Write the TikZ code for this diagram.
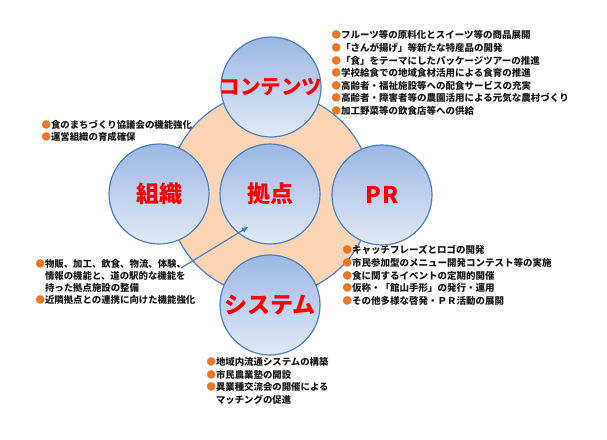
\documentclass[tikz,border=0pt]{standalone}
\usepackage{fontspec}
\newfontfamily\jp{Noto Sans CJK JP}
\usetikzlibrary{arrows.meta}
\definecolor{circblue}{RGB}{79,129,189}
\definecolor{circtop}{RGB}{156,183,228}
\definecolor{circbot}{RGB}{226,234,247}
\definecolor{peach}{RGB}{251,213,181}
\definecolor{bulorange}{RGB}{232,120,42}
\newcommand{\bul}{{\color{bulorange}●}}
\tikzset{every picture/.style={line width=1.2pt}}
\tikzset{
  ring/.style={circle, draw=circblue, inner sep=0pt, minimum size=100pt, top color=circtop, bottom color=circbot},
  ringlabel/.style={text=red, inner sep=0pt, font=\jp\bfseries\fontsize{23}{23}\selectfont},
  note/.style={anchor=north west, inner sep=0pt, align=left, text=black!90, font=\jp\bfseries\fontsize{9.5}{12.6}\selectfont},
}

\begin{document}
\begin{tikzpicture}[x=1pt,y=1pt,yscale=-1,xscale=1]
\useasboundingbox (0,0) rectangle (607,439);

%Shape: Circle [base]
\node [circle, draw=circblue, fill=peach, inner sep=0pt, minimum size=204pt] (base) at (270,194) {};

%Shape: Circle [rings]
\node [ring] (contents) at (271,87) {};
\node [ring] (soshiki) at (159,194) {};
\node [ring] (kyoten) at (270,194) {};
\node [ring] (pr) at (382,195) {};
\node [ring] (system) at (270,305) {};

% Text Node
\node [ringlabel, font=\jp\bfseries\fontsize{20.5}{20.5}\selectfont] (contentslbl) at (contents) {コンテンツ};
% Text Node
\node [ringlabel] (soshikilbl) at (soshiki) {組織};
% Text Node
\node [ringlabel] (kyotenlbl) at (kyoten) {拠点};
% Text Node
\node [ringlabel] (prlbl) at (pr) {P\hspace{1pt}R};
% Text Node
\node [ringlabel] (systemlbl) at (system) {システム};

% Text Node
\node [note] (contentsnote) at (331,30) {\bul フルーツ等の原料化とスイーツ等の商品展開\\
\bul 「さんが揚げ」等新たな特産品の開発\\
\bul 「食」をテーマにしたパッケージツアーの推進\\
\bul 学校給食での地域食材活用による食育の推進\\
\bul 高齢者・福祉施設等への配食サービスの充実\\
\bul 高齢者・障害者等の農園活用による元気な農村づくり\\
\bul 加工野菜等の飲食店等への供給};
% Text Node
\node [note, font=\jp\bfseries\fontsize{9.4}{12}\selectfont] (soshikinote) at (41,120) {\bul 食のまちづくり協議会の機能強化\\
\bul 運営組織の育成確保};
% Text Node
\node [note] (prnote) at (342,245) {\bul キャッチフレーズとロゴの開発\\
\bul 市民参加型のメニュー開発コンテスト等の実施\\
\bul 食に関するイベントの定期的開催\\
\bul 仮称・「館山手形」の発行・運用\\
\bul その他多様な啓発・ＰＲ活動の展開};
% Text Node
\node [note, font=\jp\bfseries\fontsize{9.4}{12}\selectfont] (kyotennote) at (35,259) {\bul 物販、加工、飲食、物流、体験、\\
　情報の機能と、道の駅的な機能を\\
　持った拠点施設の整備\\
\bul 近隣拠点との連携に向けた機能強化};
% Text Node
\node [note, font=\jp\bfseries\fontsize{9.4}{12.5}\selectfont] (systemnote) at (206,357) {\bul 地域内流通システムの構築\\
\bul 市民農業塾の開設\\
\bul 異業種交流会の開催による\\
　マッチングの促進};

%Straight Lines [arrow]
\coordinate (armtail) at (181,268);
\coordinate (armtip) at (248,227);
\draw [circblue, -{Triangle[length=6pt,width=5pt]}] (armtail) -- (armtip);

\end{tikzpicture}
\end{document}
